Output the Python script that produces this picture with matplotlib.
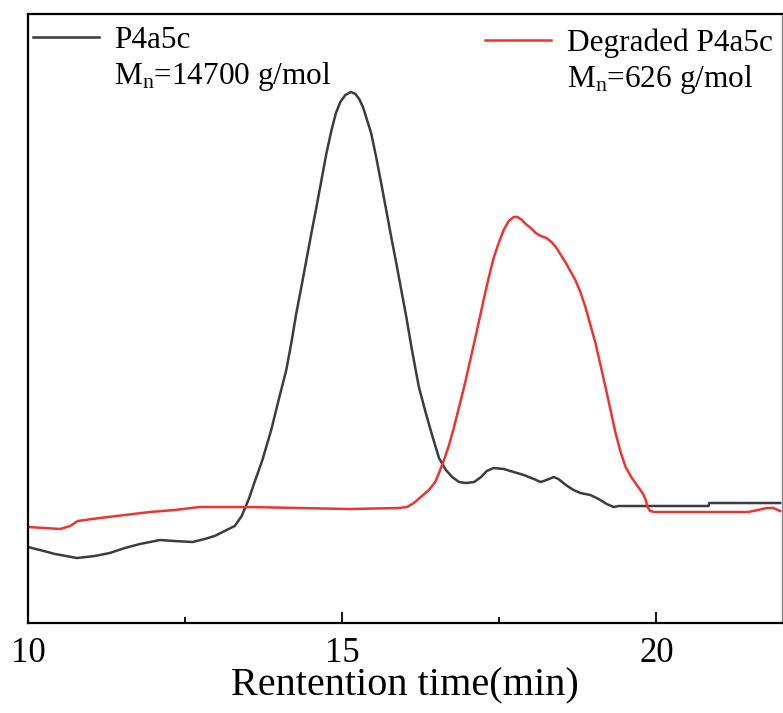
import matplotlib.pyplot as plt
from matplotlib.lines import Line2D
from matplotlib.ticker import MultipleLocator

plt.rcParams['font.family'] = ['Liberation Serif', 'DejaVu Serif']
plt.rcParams['mathtext.fontset'] = 'custom'
plt.rcParams['mathtext.rm'] = 'Liberation Serif'
plt.rcParams['mathtext.it'] = 'Liberation Serif:italic'

# GPC traces (retention time in min, intensity in a.u.)
t_orig = [10.00, 10.19, 10.43, 10.78, 11.06, 11.30, 11.54, 11.78, 12.10, 12.33,
          12.62, 12.81, 12.97, 13.16, 13.29, 13.40, 13.52, 13.60, 13.73, 13.87,
          14.00, 14.11, 14.19, 14.27, 14.35, 14.43, 14.51, 14.59, 14.67, 14.75,
          14.83, 14.90, 14.97, 15.05, 15.14, 15.21, 15.27, 15.33, 15.38, 15.46,
          15.54, 15.62, 15.70, 15.78, 15.86, 15.94, 16.02, 16.11, 16.22, 16.33,
          16.43, 16.54, 16.65, 16.75, 16.86, 16.97, 17.10, 17.21, 17.30, 17.41,
          17.57, 17.73, 17.89, 18.05, 18.16, 18.25, 18.37, 18.44, 18.56, 18.68,
          18.79, 18.95, 19.08, 19.21, 19.32, 19.40, 19.71, 20.83, 20.84, 21.97]
i_orig = [0.76, 0.73, 0.69, 0.65, 0.67, 0.70, 0.75, 0.79, 0.83, 0.82,
          0.81, 0.84, 0.87, 0.93, 0.97, 1.07, 1.25, 1.40, 1.63, 1.93,
          2.26, 2.53, 2.80, 3.10, 3.36, 3.63, 3.90, 4.16, 4.43, 4.70,
          4.93, 5.10, 5.21, 5.28, 5.31, 5.29, 5.24, 5.16, 5.06, 4.90,
          4.66, 4.40, 4.13, 3.86, 3.60, 3.33, 3.06, 2.73, 2.36, 2.10,
          1.88, 1.65, 1.53, 1.46, 1.41, 1.40, 1.41, 1.46, 1.52, 1.55,
          1.54, 1.51, 1.48, 1.44, 1.41, 1.43, 1.46, 1.44, 1.38, 1.33,
          1.30, 1.28, 1.24, 1.19, 1.16, 1.17, 1.17, 1.17, 1.20, 1.20]

t_deg = [10.00, 10.27, 10.51, 10.67, 10.79, 11.14, 11.54, 11.94, 12.33, 12.73,
         13.52, 14.32, 15.11, 15.90, 16.03, 16.14, 16.25, 16.38, 16.48, 16.54,
         16.62, 16.70, 16.78, 16.86, 16.94, 17.02, 17.10, 17.17, 17.25, 17.33,
         17.41, 17.49, 17.57, 17.65, 17.73, 17.79, 17.86, 17.92, 18.00, 18.08,
         18.16, 18.25, 18.33, 18.40, 18.48, 18.56, 18.63, 18.71, 18.79, 18.87,
         18.95, 19.03, 19.11, 19.19, 19.27, 19.35, 19.43, 19.51, 19.60, 19.71,
         19.79, 19.83, 19.86, 19.90, 19.97, 21.46, 21.62, 21.75, 21.86, 21.97]
i_deg = [0.96, 0.95, 0.94, 0.97, 1.02, 1.05, 1.08, 1.11, 1.13, 1.16,
         1.16, 1.15, 1.14, 1.15, 1.16, 1.20, 1.26, 1.33, 1.41, 1.50,
         1.63, 1.78, 1.96, 2.16, 2.36, 2.58, 2.80, 3.00, 3.23, 3.45,
         3.65, 3.80, 3.93, 4.02, 4.06, 4.06, 4.03, 3.99, 3.95, 3.90,
         3.87, 3.85, 3.81, 3.76, 3.68, 3.60, 3.52, 3.43, 3.31, 3.16,
         2.98, 2.80, 2.58, 2.36, 2.13, 1.90, 1.71, 1.56, 1.46, 1.36,
         1.29, 1.23, 1.16, 1.12, 1.11, 1.11, 1.13, 1.15, 1.15, 1.12]

fig = plt.figure(figsize=(7.83, 7.13), dpi=100)
ax = fig.add_axes([0.0358, 0.1262, 0.963, 0.8542])

l1, = ax.plot(t_orig, i_orig, color='#3c3c3c', lw=1.8)
l2, = ax.plot(t_deg, i_deg, color='#f03232', lw=1.8)

ax.set_xlim(10, 22)
ax.set_ylim(0, 6.09)
ax.xaxis.set_major_locator(MultipleLocator(5))
ax.xaxis.set_minor_locator(MultipleLocator(2.5))
ax.tick_params(axis='x', which='major', direction='in', length=8, width=1.3,
               labelsize=25, pad=10)
ax.tick_params(axis='x', which='minor', direction='in', length=4, width=1.3)
ax.set_yticks([])
ax.set_xlabel('Rentention time(min)', fontsize=29, labelpad=-2)

for s in ['left', 'bottom', 'top']:
    ax.spines[s].set_linewidth(1.6)
ax.spines['right'].set_linewidth(1.0)
ax.spines['right'].set_color('#888888')

blank = Line2D([], [], color='none')
leg_kw = dict(frameon=False, fontsize=22.5, handlelength=2.1,
              handletextpad=0.5, borderpad=0.0, labelspacing=0.15,
              borderaxespad=0.0)
leg1 = ax.legend([l1, blank], ['P4a5c', '$\\mathregular{M_n}$=14700 g/mol'],
                 loc='upper left', bbox_to_anchor=(0.0066, 0.980), **leg_kw)
ax.add_artist(leg1)
ax.legend([l2, blank], ['Degraded P4a5c', '$\\mathregular{M_n}$=626 g/mol'],
          loc='upper right', bbox_to_anchor=(0.9874, 0.976), **leg_kw)

fig.savefig('out.png', dpi=100)
